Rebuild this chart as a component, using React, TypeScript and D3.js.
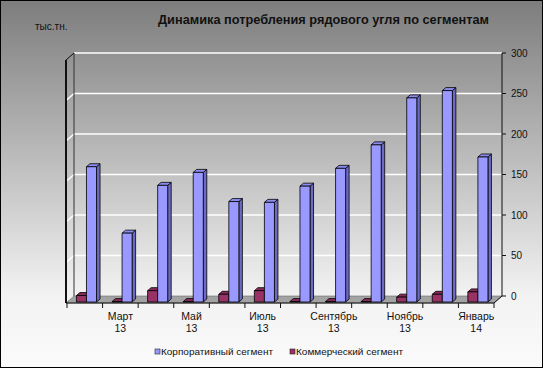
import * as d3 from 'd3';

const months = [
  'Февраль 13', 'Март 13', 'Апрель 13', 'Май 13', 'Июнь 13', 'Июль 13',
  'Август 13', 'Сентябрь 13', 'Октябрь 13', 'Ноябрь 13', 'Декабрь 13', 'Январь 14',
];
const corporate = [167, 85, 144, 160, 124, 123, 143, 165, 194, 252, 261, 179];
const commercial = [8, 0.5, 14, 0.5, 9.5, 14, 0.5, 0.5, 0.5, 6, 9.5, 12.5];
const seriesNames = ['Коммерческий сегмент', 'Корпоративный сегмент'];
const yTicks = [0, 50, 100, 150, 200, 250, 300];

const W = 543;
const H = 368;
const FONT = 'Liberation Sans, Arial, sans-serif';

// back wall and depth of the 3d box
const wallLeft = 74;
const wallRight = 502;
const depthX = -8;
const depthY = 7;
// bar front face sits a bit in front of the wall
const barDy = 6;
const barDepthX = 3.5;
const barDepthY = -3;

const colors = {
  corp: { front: '#9999ff', top: '#8c8cf0', side: '#6b6bc4' },
  comm: { front: '#993366', top: '#862a58', side: '#6e2048' },
};

export default function App() {
  const y = d3.scaleLinear().domain([0, 300]).range([296, 53]);
  const x = d3.scaleBand<string>().domain(months).range([67, 494]).padding(0);
  const bw = x.bandwidth();
  const sub = d3.scaleBand<string>().domain(seriesNames).range([bw * 0.265, bw * 0.83]);
  const sw = sub.bandwidth();

  const base = y(0);
  const front = base + depthY;

  const bar = (x0: number, v: number, c: { front: string; top: string; side: string }, key: string) => {
    const yb = base + barDy;
    const yt = y(v) + barDy;
    const x1 = x0 + sw;
    const top = `M${x0},${yt}L${x0 + barDepthX},${yt + barDepthY}L${x1 + barDepthX},${yt + barDepthY}L${x1},${yt}Z`;
    const side = `M${x1},${yt}L${x1 + barDepthX},${yt + barDepthY}L${x1 + barDepthX},${yb + barDepthY}L${x1},${yb}Z`;
    return (
      <g key={key} stroke="#000" strokeWidth={0.8} strokeLinejoin="round">
        <path d={side} fill={c.side} />
        <path d={top} fill={c.top} />
        <rect x={x0} y={yt} width={sw} height={yb - yt} fill={c.front} />
      </g>
    );
  };

  const ticksX = [...months.map(m => x(m) as number), x.range()[1]];

  return (
    <div style={{ position: 'fixed', left: 0, top: 0 }}>
      <svg width={W} height={H} style={{ display: 'block' }}>
        <defs>
          <linearGradient id="bg" x1="0" y1="0" x2="0" y2="1">
            <stop offset="0" stopColor="#7d7d7d" />
            <stop offset="0.8" stopColor="#f2f2f2" />
            <stop offset="1" stopColor="#fbfbfb" />
          </linearGradient>
        </defs>
        <rect x={0.5} y={0.5} width={W - 1} height={H - 1} fill="url(#bg)" stroke="#000" />

        <text x={158} y={24} fontFamily={FONT} fontSize={12.5} fontWeight="bold" fill="#111"
          textLength={331} lengthAdjust="spacingAndGlyphs">
          Динамика потребления рядового угля по сегментам
        </text>
        <text x={35} y={30} fontFamily={FONT} fontSize={10} fill="#111">тыс.тн.</text>

        {/* floor */}
        <path
          d={`M${wallLeft},${base}L${wallRight},${base}L${wallRight + depthX},${front}L${wallLeft + depthX},${front}Z`}
          fill="#a3a3a3"
          stroke="#6a6a6a"
          strokeWidth={0.6}
        />

        {/* gridlines on back and side wall */}
        {yTicks.filter(t => t > 0).map(t => (
          <g key={t} stroke="#fff" strokeWidth={1.6}>
            <line x1={wallLeft} x2={wallRight} y1={y(t)} y2={y(t)} />
            <line x1={wallLeft} x2={wallLeft + depthX} y1={y(t)} y2={y(t) + depthY} />
          </g>
        ))}

        {/* left wall edges */}
        <line x1={wallLeft} x2={wallLeft} y1={y(300)} y2={base} stroke="#333" strokeWidth={1} />
        <line x1={wallLeft + depthX} x2={wallLeft + depthX} y1={y(300) + depthY} y2={front} stroke="#111" strokeWidth={2} />
        <line x1={wallLeft} x2={wallLeft + depthX} y1={y(300)} y2={y(300) + depthY} stroke="#222" strokeWidth={1.2} />

        {/* right value axis */}
        <line x1={wallRight} x2={wallRight} y1={y(300)} y2={base} stroke="#111" />
        <line x1={wallRight} x2={wallRight + depthX} y1={base} y2={front} stroke="#111" />
        {yTicks.map(t => (
          <g key={t}>
            <line x1={wallRight} x2={wallRight + 4} y1={y(t)} y2={y(t)} stroke="#111" />
            <text x={511} y={y(t)} dy="0.35em" fontFamily={FONT} fontSize={10} fill="#111">{t}</text>
          </g>
        ))}

        {/* bars */}
        {months.map((m, i) => {
          const cx = x(m) as number;
          return (
            <g key={m}>
              {bar(cx + (sub(seriesNames[0]) as number), commercial[i], colors.comm, 'c')}
              {bar(cx + (sub(seriesNames[1]) as number), corporate[i], colors.corp, 'p')}
            </g>
          );
        })}

        {/* category axis */}
        <line x1={wallLeft + depthX} x2={wallRight + depthX} y1={front} y2={front} stroke="#111" />
        {ticksX.map((tx, i) => (
          <line key={i} x1={tx} x2={tx} y1={front} y2={front + 5} stroke="#111" />
        ))}
        {months.map((m, i) => {
          if (i % 2 === 0) return null;
          const [name, yr] = m.split(' ');
          const cx = (x(m) as number) + bw / 2;
          return (
            <text key={m} x={cx} textAnchor="middle" fontFamily={FONT} fontSize={10.5} fill="#111">
              <tspan x={cx} y={319.5}>{name}</tspan>
              <tspan x={cx} y={331.5}>{yr}</tspan>
            </text>
          );
        })}

        {/* legend */}
        <rect x={155} y={349} width={5} height={5} fill={colors.corp.front} stroke="#222" strokeWidth={0.6} />
        <text x={161} y={355} fontFamily={FONT} fontSize={9.5} fill="#111" textLength={112} lengthAdjust="spacingAndGlyphs">
          {seriesNames[1]}
        </text>
        <rect x={290} y={349} width={5} height={5} fill={colors.comm.front} stroke="#222" strokeWidth={0.6} />
        <text x={296} y={355} fontFamily={FONT} fontSize={9.5} fill="#111" textLength={107} lengthAdjust="spacingAndGlyphs">
          {seriesNames[0]}
        </text>
      </svg>
    </div>
  );
}
